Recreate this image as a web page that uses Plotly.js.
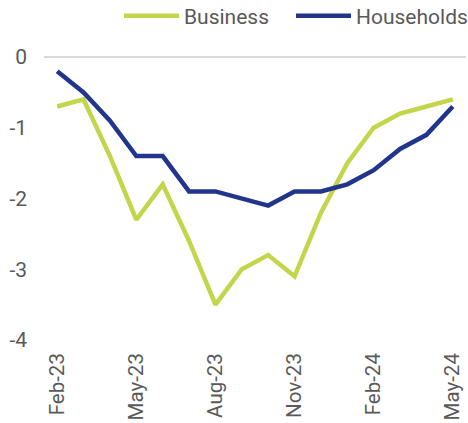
<!DOCTYPE html>
<html>
<head>
<meta charset="utf-8">
<script src="https://cdn.plot.ly/plotly-3.0.1.min.js"></script>
<style>html,body{margin:0;padding:0;background:#fff}#chart{width:468px;height:423px}</style>
</head>
<body>
<div id="chart"></div>
<script>
const months = ["Feb-23","Mar-23","Apr-23","May-23","Jun-23","Jul-23","Aug-23","Sep-23","Oct-23","Nov-23","Dec-23","Jan-24","Feb-24","Mar-24","Apr-24","May-24"];
const business = [-0.7,-0.6,-1.4,-2.3,-1.8,-2.6,-3.5,-3.0,-2.8,-3.1,-2.2,-1.5,-1.0,-0.8,-0.7,-0.6];
const households = [-0.2,-0.5,-0.9,-1.4,-1.4,-1.9,-1.9,-2.0,-2.1,-1.9,-1.9,-1.8,-1.6,-1.3,-1.1,-0.7];
const tickLabels = ["Feb-23","May-23","Aug-23","Nov-23","Feb-24","May-24"];
const yTicks = [0,-1,-2,-3,-4];

const fontFam = "Roboto, Arial, sans-serif";
const data = [
  {x: months, y: business, name: "Business", type: "scatter", mode: "lines", legend: "legend",
   line: {color: "#c3d54b", width: 4.5}},
  {x: months, y: households, name: "Households", type: "scatter", mode: "lines", legend: "legend2",
   line: {color: "#22358c", width: 4.5}}
];
const legBase = {orientation: "h", xref: "container", xanchor: "left", yref: "container", y: 1 - 16/423, yanchor: "middle",
    itemwidth: 55, font: {family: fontFam, size: 21, color: "#595959"}, bgcolor: "rgba(0,0,0,0)"};
const layout = {
  width: 468, height: 423,
  margin: {l: 44, r: 2, t: 57, b: 83},
  paper_bgcolor: "#fff", plot_bgcolor: "#fff",
  font: {family: fontFam, size: 21, color: "#595959"},
  showlegend: true,
  legend: Object.assign({}, legBase, {x: 119/468}),
  legend2: Object.assign({}, legBase, {x: 291/468}),
  xaxis: {type: "category", range: [-0.5, 15.5], tickmode: "array", tickvals: tickLabels, ticktext: tickLabels,
    tickangle: -90, showgrid: false, zeroline: false, showline: false, ticks: "", ticklabelstandoff: 8,
    tickfont: {size: 20.5}},
  yaxis: {range: [-4, 0], tickmode: "array", tickvals: yTicks, ticktext: yTicks.map(String),
    showgrid: false, zeroline: true, zerolinecolor: "#d9d9d9", zerolinewidth: 2, showline: false,
    ticks: "", ticklabelstandoff: 16}
};
Plotly.newPlot("chart", data, layout, {displayModeBar: false, staticPlot: true});
</script>
</body>
</html>
